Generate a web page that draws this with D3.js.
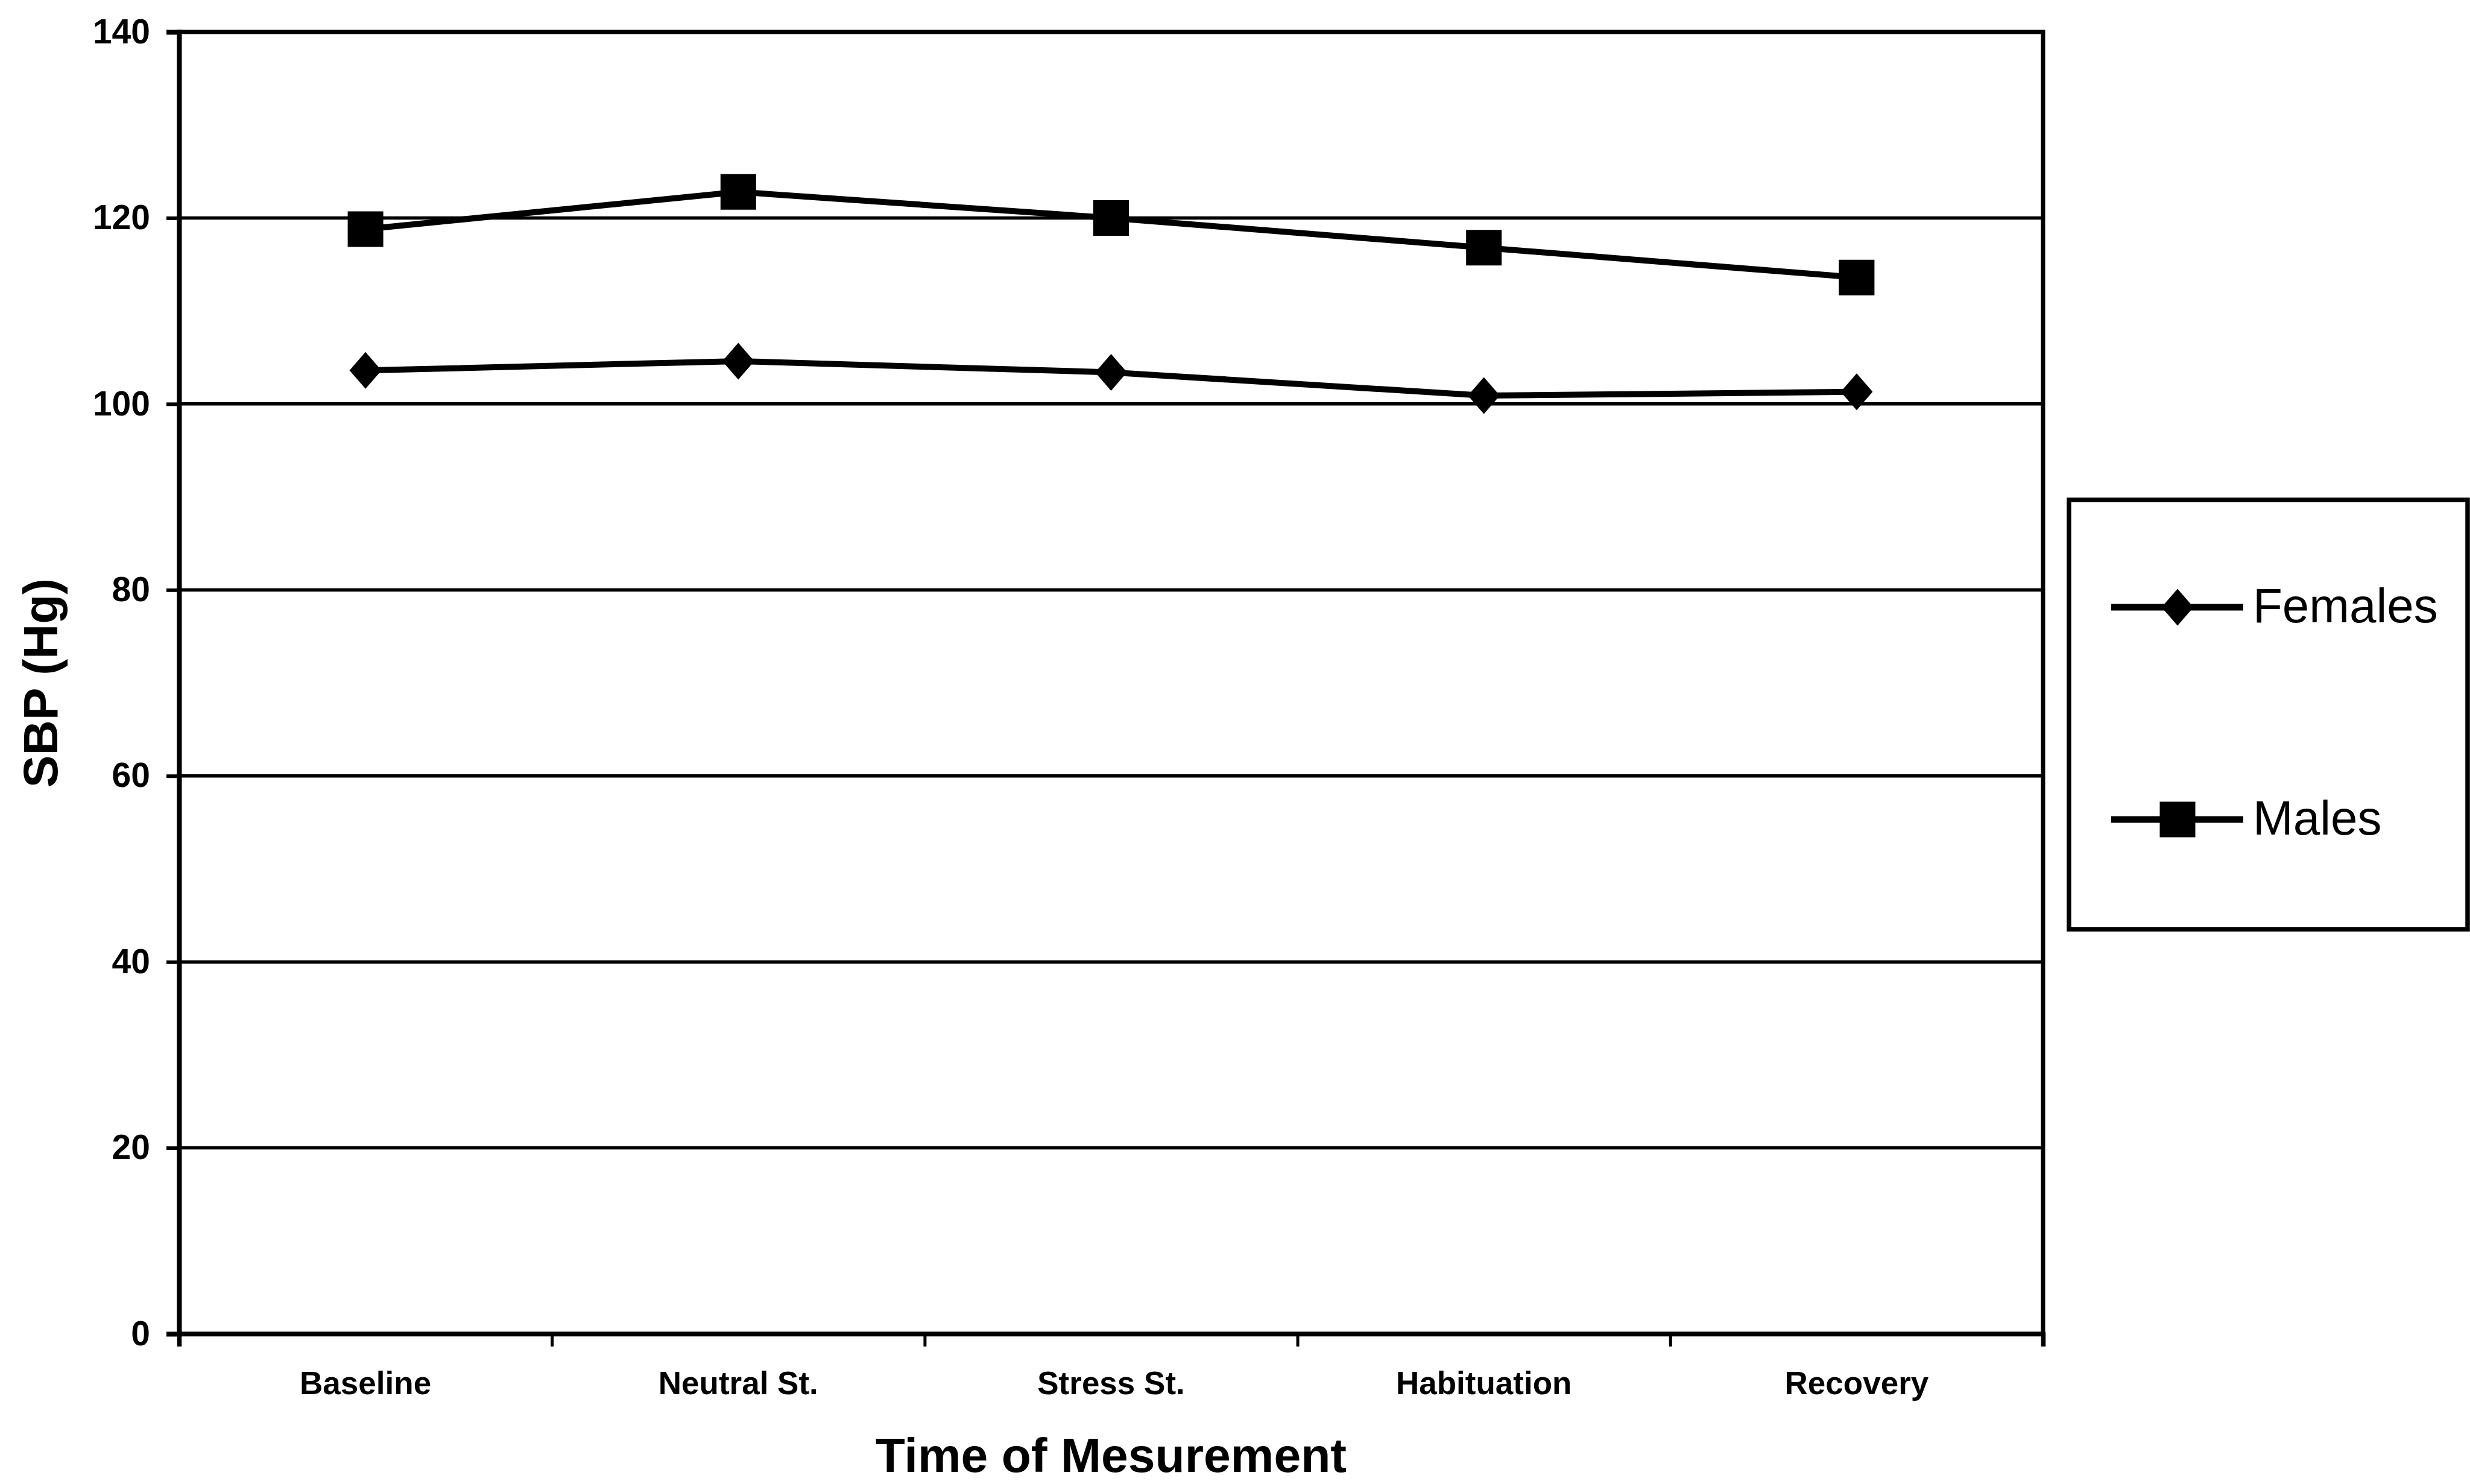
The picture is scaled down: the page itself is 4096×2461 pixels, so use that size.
<!DOCTYPE html>
<html>
<head>
<meta charset="utf-8">
<script src="https://cdn.jsdelivr.net/npm/d3@7"></script>
<style>
  html, body { margin: 0; padding: 0; background: #fff; }
  svg { display: block; }
  text { font-family: "Liberation Sans", Arial, sans-serif; fill: #000; }
</style>
</head>
<body>
<svg id="chart" width="4096" height="2461"></svg>
<script>
// Systolic blood pressure by time of measurement
const categories = ["Baseline", "Neutral St.", "Stress St.", "Habituation", "Recovery"];
const females = [103.6, 104.6, 103.4, 100.9, 101.3];
const males = [118.8, 122.8, 120.0, 116.8, 113.6];
const yTicks = [0, 20, 40, 60, 80, 100, 120, 140];
const seriesNames = ["Females", "Males"];
const xTitle = "Time of Mesurement";
const yTitle = "SBP (Hg)";

const svg = d3.select("#chart");
const plot = { left: 297, right: 3388, top: 53, bottom: 2212 };

const x = d3.scaleBand().domain(categories).range([plot.left, plot.right]).padding(0);
const xEdges = d3.scaleLinear().domain([0, categories.length]).range([plot.left, plot.right]);
const y = d3.scaleLinear().domain([0, 140]).range([plot.bottom, plot.top]);

// horizontal gridlines
svg.append("g")
  .selectAll("line")
  .data(yTicks.filter(d => d > 0))
  .join("line")
  .attr("x1", plot.left).attr("x2", plot.right)
  .attr("y1", d => y(d)).attr("y2", d => y(d))
  .attr("stroke", "#000").attr("stroke-width", 5.5);

// plot frame
svg.append("rect")
  .attr("x", plot.left).attr("y", plot.top)
  .attr("width", plot.right - plot.left).attr("height", plot.bottom - plot.top)
  .attr("fill", "none").attr("stroke", "#000").attr("stroke-width", 7);

// y axis
const yAxis = svg.append("g")
  .attr("transform", `translate(${plot.left},0)`)
  .call(d3.axisLeft(y).tickValues(yTicks).tickSize(21).tickPadding(27).tickFormat(d3.format("d")));
yAxis.select(".domain").attr("stroke", "#000").attr("stroke-width", 8);
yAxis.selectAll(".tick line").attr("stroke", "#000").attr("stroke-width", 6);
yAxis.selectAll(".tick text")
  .attr("font-size", 57).attr("font-weight", "bold")
  .attr("font-family", "'Liberation Sans', Arial, sans-serif").attr("fill", "#000");

// x axis: ticks on category boundaries, labels centred in each band
const xTickAxis = svg.append("g")
  .attr("transform", `translate(0,${plot.bottom})`)
  .call(d3.axisBottom(xEdges).tickValues(d3.range(categories.length + 1)).tickSize(21).tickFormat(""));
xTickAxis.select(".domain").attr("stroke", "#000").attr("stroke-width", 7.5);
xTickAxis.selectAll(".tick line").attr("stroke", "#000").attr("stroke-width", 5);

const xLabelAxis = svg.append("g")
  .attr("transform", `translate(0,${plot.bottom})`)
  .call(d3.axisBottom(x).tickSize(0).tickPadding(62));
xLabelAxis.select(".domain").remove();
xLabelAxis.selectAll(".tick text")
  .attr("font-size", 53).attr("font-weight", "bold")
  .attr("font-family", "'Liberation Sans', Arial, sans-serif").attr("fill", "#000");

// axis titles
svg.append("text")
  .attr("x", (plot.left + plot.right) / 2).attr("y", 2441)
  .attr("text-anchor", "middle").attr("font-size", 80.5).attr("font-weight", "bold")
  .text(xTitle);

svg.append("text")
  .attr("transform", `translate(95,${(plot.top + plot.bottom) / 2}) rotate(-90)`)
  .attr("text-anchor", "middle").attr("font-size", 80.5).attr("font-weight", "bold")
  .text(yTitle);

// marker shapes
const diamondW = 53, diamondH = 61, squareS = 59;
const diamondPath = `M0,${-diamondH / 2}L${diamondW / 2},0L0,${diamondH / 2}L${-diamondW / 2},0Z`;
const squarePath = `M${-squareS / 2},${-squareS / 2}h${squareS}v${squareS}h${-squareS}Z`;
const shapes = [diamondPath, squarePath];

const line = d3.line()
  .x((d, i) => x(categories[i]) + x.bandwidth() / 2)
  .y(d => y(d));

[females, males].forEach((values, s) => {
  const g = svg.append("g");
  g.append("path")
    .attr("d", line(values))
    .attr("fill", "none").attr("stroke", "#000").attr("stroke-width", 10)
    .attr("stroke-linejoin", "round");
  g.selectAll("path.marker")
    .data(values)
    .join("path")
    .attr("class", "marker")
    .attr("d", shapes[s])
    .attr("transform", (d, i) => `translate(${x(categories[i]) + x.bandwidth() / 2},${y(d)})`)
    .attr("fill", "#000");
});

// legend
const legend = svg.append("g").attr("transform", "translate(3431,829)");
legend.append("rect")
  .attr("width", 661).attr("height", 712)
  .attr("fill", "#fff").attr("stroke", "#000").attr("stroke-width", 7.5);

const legendRows = [178, 530];
seriesNames.forEach((name, s) => {
  const ly = legendRows[s];
  legend.append("line")
    .attr("x1", 70).attr("x2", 289).attr("y1", ly).attr("y2", ly)
    .attr("stroke", "#000").attr("stroke-width", 11);
  legend.append("path")
    .attr("d", shapes[s])
    .attr("transform", `translate(180,${ly})`)
    .attr("fill", "#000");
  legend.append("text")
    .attr("x", 305).attr("y", ly + 25)
    .attr("font-size", 80)
    .text(name);
});
</script>
</body>
</html>
